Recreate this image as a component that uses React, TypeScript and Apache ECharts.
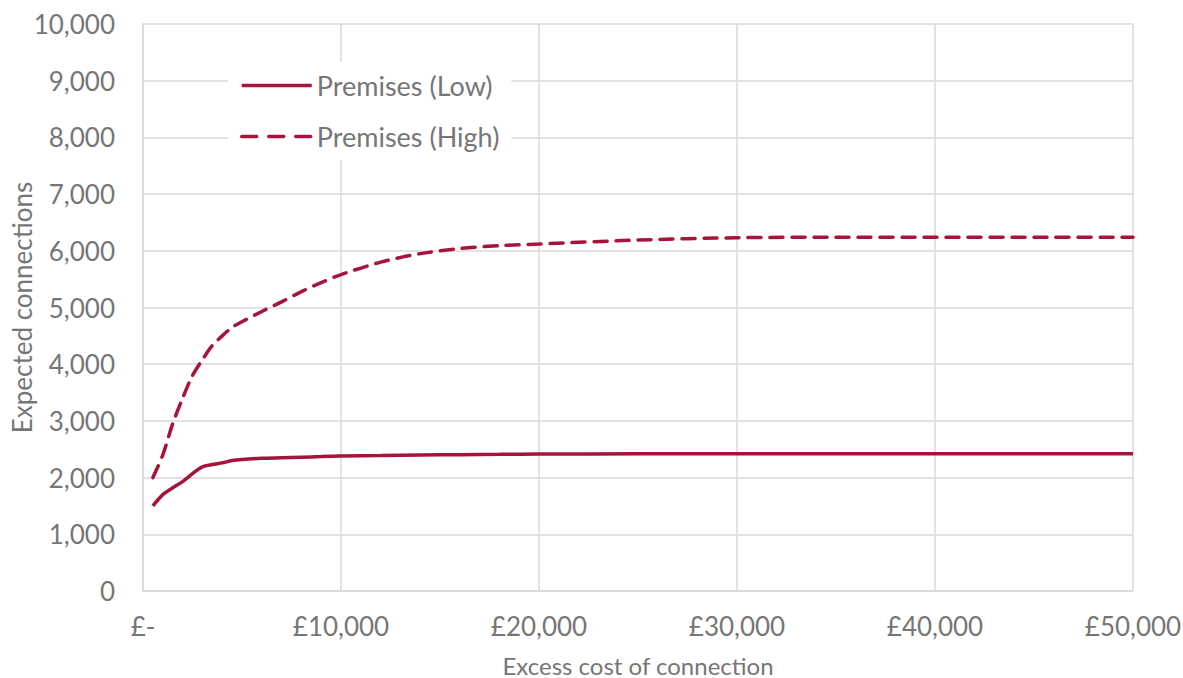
import React, { useEffect, useRef } from "react";
import * as echarts from "echarts";

const costs = [500, 1000, 1500, 2000, 2500, 3000, 3500, 4000, 4500, 5000, 6000, 7000, 8000, 9000, 10000, 12000, 14000, 16000, 18000, 20000, 25000, 30000, 35000, 40000, 45000, 50000];
const premisesLow = [1500, 1700, 1820, 1930, 2070, 2190, 2230, 2260, 2300, 2320, 2340, 2350, 2360, 2370, 2380, 2390, 2400, 2405, 2410, 2415, 2420, 2420, 2420, 2420, 2420, 2420];
const premisesHigh = [2000, 2400, 2950, 3400, 3800, 4080, 4330, 4500, 4650, 4750, 4930, 5100, 5280, 5440, 5580, 5800, 5950, 6040, 6090, 6120, 6190, 6230, 6240, 6240, 6240, 6240];
const seriesNames = ["Premises (Low)", "Premises (High)"];
const xTitle = "Excess cost of connection";
const yTitle = "Expected connections";

const FONT = "Lato, 'Open Sans', sans-serif";
const GREY = "#767676";
const RED = "#a6133b";

export default function App() {
  const ref = useRef<HTMLDivElement>(null);
  useEffect(() => {
    if (!ref.current) return;
    const chart = echarts.init(ref.current, null, { renderer: "svg" });
    chart.setOption({
      animation: false,
      backgroundColor: "#ffffff",
      grid: { left: 143, right: 50, top: 24, bottom: 87, outerBoundsMode: "none", containLabel: false },
      legend: {
        left: 228,
        top: 62,
        orient: "vertical",
        backgroundColor: "#ffffff",
        padding: [10, 12, 10, 12],
        itemWidth: 70,
        itemHeight: 20,
        itemGap: 24,
        itemStyle: { opacity: 0 },
        textStyle: { fontFamily: FONT, fontSize: 27, color: GREY },
        data: [
          { name: seriesNames[0], lineStyle: { width: 3.5, type: "solid" } },
          { name: seriesNames[1], lineStyle: { width: 3.5, type: [15, 12], cap: "round" } },
        ],
      },
      xAxis: {
        type: "value",
        min: 0,
        max: 50000,
        interval: 10000,
        name: xTitle,
        nameLocation: "middle",
        nameGap: 62,
        nameMoveOverlap: false,
        nameTextStyle: { fontFamily: FONT, fontSize: 24, color: GREY },
        axisLine: { show: true, lineStyle: { color: "#d9d9d9", width: 1.5 } },
        axisTick: { show: false },
        splitLine: { show: true, lineStyle: { color: "#d9d9d9", width: 1.5 } },
        axisLabel: {
          fontFamily: FONT,
          fontSize: 26,
          color: GREY,
          margin: 22,
          formatter: (v: number) => (v === 0 ? "£-" : "£" + v.toLocaleString("en-GB")),
        },
      },
      yAxis: {
        type: "value",
        min: 0,
        max: 10000,
        interval: 1000,
        name: yTitle,
        nameLocation: "middle",
        nameGap: 108,
        nameMoveOverlap: false,
        nameTextStyle: { fontFamily: FONT, fontSize: 26, color: GREY },
        axisLine: { show: true, lineStyle: { color: "#d9d9d9", width: 1.5 } },
        axisTick: { show: false },
        splitLine: { show: true, lineStyle: { color: "#d9d9d9", width: 1.5 } },
        axisLabel: {
          fontFamily: FONT,
          fontSize: 26,
          color: GREY,
          margin: 28,
          formatter: (v: number) => v.toLocaleString("en-GB"),
        },
      },
      series: [
        {
          name: seriesNames[0],
          type: "line",
          data: costs.map((c, i) => [c, premisesLow[i]]),
          symbol: "none",
          smooth: 0.3,
          lineStyle: { color: RED, width: 3.5 },
          itemStyle: { color: RED },
        },
        {
          name: seriesNames[1],
          type: "line",
          data: costs.map((c, i) => [c, premisesHigh[i]]),
          symbol: "none",
          smooth: 0.3,
          lineStyle: { color: RED, width: 3.5, type: [13, 9], cap: "round" },
          itemStyle: { color: RED },
        },
      ],
    });
    return () => chart.dispose();
  }, []);
  return <div ref={ref} style={{ width: 1183, height: 678, position: "absolute", left: 0, top: 0 }} />;
}
